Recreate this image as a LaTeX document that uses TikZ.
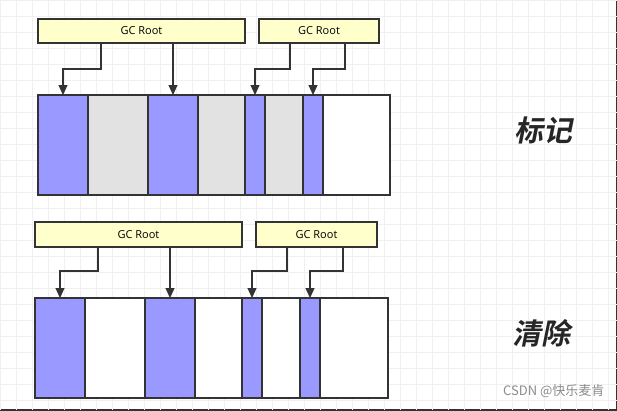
\documentclass[tikz,border=0pt]{standalone}
\usepackage{fontspec}
\setmainfont{Open Sans}
\newfontfamily\cjkb{Noto Sans CJK SC Bold}[FakeSlant=0.2]
\newfontfamily\cjk{Noto Sans CJK SC}
\usetikzlibrary{arrows.meta}
\begin{document}
\begin{tikzpicture}[x=1pt,y=-1pt,
  cell/.style={draw=black!80,line width=1.2pt},
  blue/.style={cell,fill={rgb,255:red,153;green,153;blue,255}},
  gray/.style={cell,fill={rgb,255:red,226;green,226;blue,226}},
  white/.style={cell,fill=white},
  root/.style={draw=black!80,line width=1.2pt,fill={rgb,255:red,255;green,255;blue,204},inner sep=0pt,font=\fontsize{11}{12}\selectfont},
  arr/.style={draw=black!80,line width=1.2pt,-{Triangle[length=10pt,width=9pt]}},
  lab/.style={font=\cjkb\fontsize{29}{31}\selectfont,text=black!85}]
\useasboundingbox (0,0) rectangle (617,410);
\fill[white] (0,0) rectangle (617,410);
\foreach \i in {0,16,...,617} \draw[black!6,line width=0.6pt] (\i,0) -- (\i,410);
\foreach \j in {0,16,...,410} \draw[black!6,line width=0.6pt] (0,\j) -- (617,\j);
% top
\node[root,minimum width=207,minimum height=24] (r1) at (141.5,31) {GC Root};
\node[root,minimum width=120,minimum height=24] (r2) at (319,31) {GC Root};
\path[blue] (38,95) rectangle (88,195);
\path[gray] (88,95) rectangle (148,195);
\path[blue] (148,95) rectangle (198,195);
\path[gray] (198,95) rectangle (245,195);
\path[blue] (245,95) rectangle (265,195);
\path[gray] (265,95) rectangle (303,195);
\path[blue] (303,95) rectangle (323,195);
\path[white] (323,95) rectangle (390,195);
\coordinate (a1) at (63,95); \coordinate (a2) at (173,95);
\coordinate (a3) at (255,95); \coordinate (a4) at (313,95);
\draw[arr] (r1.south -| 101,0) |- (63,69) -- (a1);
\draw[arr] (r1.south -| a2) -- (a2);
\draw[arr] (r2.south -| 290,0) |- (255,69) -- (a3);
\draw[arr] (r2.south -| 345,0) |- (313,69) -- (a4);
\node[lab] (l1) at (543,130) {标记};
% bottom
\node[root,minimum width=207,minimum height=25] (s1) at (138.5,234.5) {GC Root};
\node[root,minimum width=121,minimum height=25] (s2) at (316.5,234.5) {GC Root};
\path[blue] (35,298) rectangle (85,398);
\path[white] (85,298) rectangle (145,398);
\path[blue] (145,298) rectangle (195,398);
\path[white] (195,298) rectangle (242,398);
\path[blue] (242,298) rectangle (262,398);
\path[white] (262,298) rectangle (300,398);
\path[blue] (300,298) rectangle (320,398);
\path[white] (320,298) rectangle (388,398);
\coordinate (b1) at (60,298); \coordinate (b2) at (170,298);
\coordinate (b3) at (252,298); \coordinate (b4) at (310,298);
\draw[arr] (s1.south -| 98,0) |- (60,271) -- (b1);
\draw[arr] (s1.south -| b2) -- (b2);
\draw[arr] (s2.south -| 287,0) |- (252,271) -- (b3);
\draw[arr] (s2.south -| 343,0) |- (310,271) -- (b4);
\node[lab] (l2) at (541,333) {清除};
\node[font=\cjk\fontsize{13}{15}\selectfont,text=black!45,anchor=east] (wm) at (608,391) {CSDN @快乐麦肯};
\end{tikzpicture}
\end{document}
